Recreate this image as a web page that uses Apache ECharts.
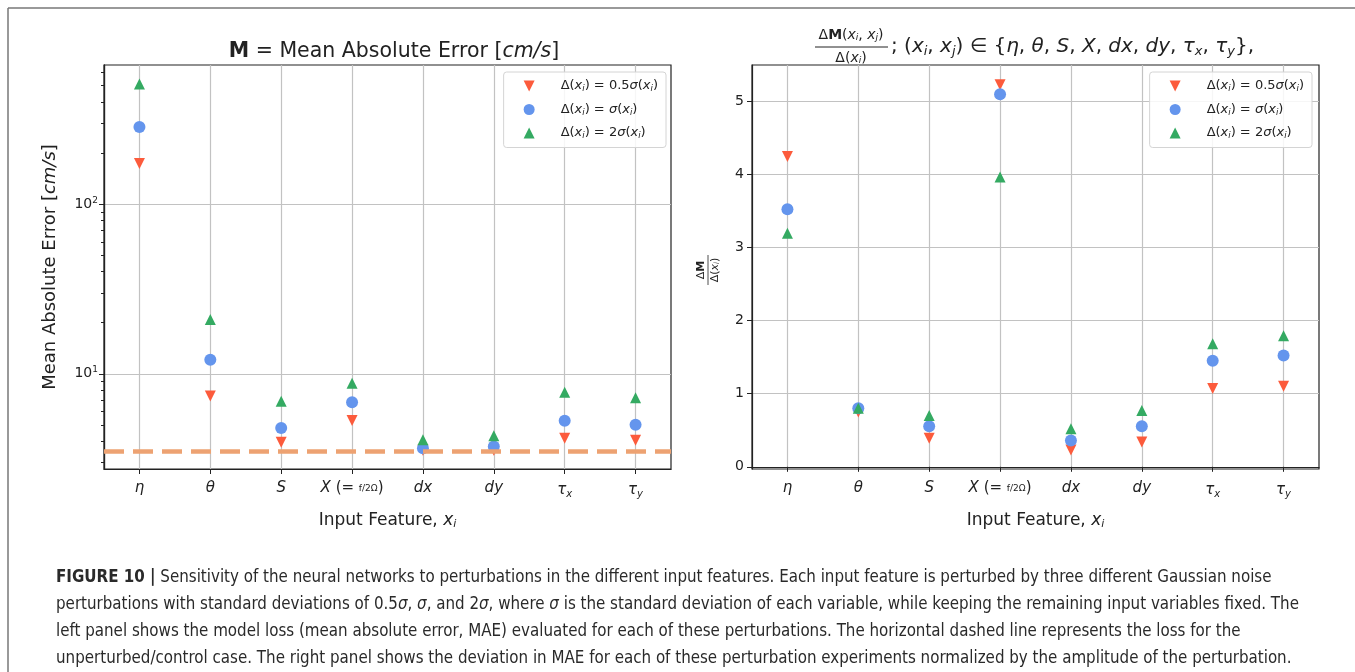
<!DOCTYPE html>
<html>
<head>
<meta charset="utf-8">
<script src="https://cdn.jsdelivr.net/npm/echarts@6/dist/echarts.min.js"></script>
<style>
html, body { margin: 0; padding: 0; background: #fff; }
#chart { width: 1355px; height: 672px; }
</style>
</head>
<body>
<div id="chart"></div>
<script>
// input features on the x axis
const categories = ['η', 'θ', 'S', 'X', 'dx', 'dy', 'τx', 'τy'];
const seriesNames = ['Δ(xi) = 0.5σ(xi)', 'Δ(xi) = σ(xi)', 'Δ(xi) = 2σ(xi)'];

// left panel: mean absolute error [cm/s]
const maeHalfSigma = [174, 7.4, 3.94, 5.3, 3.54, 3.54, 4.16, 4.06];
const maeSigma = [285, 12.1, 4.79, 6.8, 3.64, 3.72, 5.29, 5.01];
const maeTwoSigma = [512, 20.9, 6.89, 8.8, 4.08, 4.31, 7.78, 7.21];
const maeControl = 3.48;

// right panel: dM / d(x)
const dmHalfSigma = [4.24, 0.75, 0.39, 5.22, 0.23, 0.34, 1.07, 1.10];
const dmSigma = [3.52, 0.80, 0.555, 5.09, 0.36, 0.555, 1.45, 1.52];
const dmTwoSigma = [3.19, 0.80, 0.70, 3.96, 0.52, 0.77, 1.68, 1.79];

// tick values
const logMajorTicks = [10, 100];
const logMinorTicks = [3, 4, 5, 6, 7, 8, 9, 20, 30, 40, 50, 60, 70, 80, 90, 200, 300, 400, 500, 600];
const linearTicks = [0, 1, 2, 3, 4, 5];

const captionLines = [
  '{b|FIGURE 10 |} Sensitivity of the neural networks to perturbations in the different input features. Each input feature is perturbed by three different Gaussian noise',
  'perturbations with standard deviations of 0.5{i|σ}, {i|σ}, and 2{i|σ}, where {i|σ} is the standard deviation of each variable, while keeping the remaining input variables fixed. The',
  'left panel shows the model loss (mean absolute error, MAE) evaluated for each of these perturbations. The horizontal dashed line represents the loss for the',
  'unperturbed/control case. The right panel shows the deviation in MAE for each of these perturbation experiments normalized by the amplitude of the perturbation.'
];

const FF = 'DejaVu Sans';
const CAP_FF = 'Liberation Sans Narrow, DejaVu Sans Condensed, sans-serif';
const INK = '#222';
const RED = '#fc5b3c';
const BLUE = '#6495ed';
const GREEN = '#34aa62';
const DASH = '#eda272';
const GRIDC = '#c2c2c2';
const DOWN_TRI = 'path://M0,0L10,0L5,10Z';

const mathRich = {
  i: { fontStyle: 'italic', fontFamily: FF, fontSize: 15, color: INK },
  s: { fontStyle: 'italic', fontFamily: FF, fontSize: 10, color: INK, padding: [8, 0, 0, 0] },
  f: { fontFamily: FF, fontSize: 9, color: INK },
  n: { fontFamily: FF, fontSize: 15, color: INK }
};

function tickLabel(c) {
  if (c === 'X') return '{i|X} {n|(=} {f|f/2Ω}{n|)}';
  if (c === 'τx') return '{i|τ}{s|x}';
  if (c === 'τy') return '{i|τ}{s|y}';
  return '{i|' + c + '}';
}

const legendRich = {
  i: { fontStyle: 'italic', fontFamily: FF, fontSize: 13, color: INK },
  s: { fontStyle: 'italic', fontFamily: FF, fontSize: 8.5, color: INK, padding: [6, 0, 0, 0] },
  n: { fontFamily: FF, fontSize: 13, color: INK }
};
const legendText = {};
legendText[seriesNames[0]] = '{n|Δ(}{i|x}{s|i}{n|) = 0.5}{i|σ}{n|(}{i|x}{s|i}{n|)}';
legendText[seriesNames[1]] = '{n|Δ(}{i|x}{s|i}{n|) = }{i|σ}{n|(}{i|x}{s|i}{n|)}';
legendText[seriesNames[2]] = '{n|Δ(}{i|x}{s|i}{n|) = 2}{i|σ}{n|(}{i|x}{s|i}{n|)}';
const legendIcons = [DOWN_TRI, 'circle', 'triangle'];

function makeLegend(right) {
  return {
    right: right, top: 72, orient: 'vertical',
    itemWidth: 11, itemHeight: 11, itemGap: 9,
    padding: [7, 8, 7, 20],
    borderColor: '#d4d4d4', borderWidth: 1, borderRadius: 3,
    backgroundColor: 'rgba(255,255,255,0.85)',
    data: seriesNames.map((n, k) => ({ name: n, icon: legendIcons[k] })),
    formatter: name => legendText[name],
    textStyle: { fontFamily: FF, fontSize: 13, lineHeight: 14, color: INK, rich: legendRich, padding: [0, 0, 0, 21] },
    selectedMode: false
  };
}

function makeXAxis(gridIndex) {
  return {
    type: 'category', gridIndex: gridIndex, data: categories, boundaryGap: true,
    axisLine: { show: true, lineStyle: { color: INK, width: 1.2 } },
    axisTick: { show: true, alignWithLabel: true, length: 5, lineStyle: { color: INK } },
    splitLine: { show: true, alignWithLabel: true, lineStyle: { color: GRIDC, width: 1.2 } },
    axisLabel: { interval: 0, margin: 12, formatter: tickLabel, rich: mathRich, fontFamily: FF, fontSize: 15, color: INK },
    name: '{n|Input Feature, }{i|x}{s|i}',
    nameLocation: 'middle', nameGap: 42,
    nameTextStyle: {
      fontFamily: FF, fontSize: 17, color: INK,
      rich: {
        n: { fontFamily: FF, fontSize: 17, color: INK },
        i: { fontFamily: FF, fontSize: 17, fontStyle: 'italic', color: INK },
        s: { fontFamily: FF, fontSize: 11, fontStyle: 'italic', color: INK, padding: [8, 0, 0, 0] }
      }
    }
  };
}

function scatter(name, xi, data, symbol, color, extra) {
  return Object.assign({
    type: 'scatter', name: name, xAxisIndex: xi, yAxisIndex: xi === 0 ? 0 : 2,
    data: data, symbol: symbol, symbolSize: symbol === 'circle' ? 12 : 11,
    itemStyle: { color: color, opacity: 1 },
    emphasis: { disabled: true }, z: 3
  }, extra || {});
}

function panelSeries(xi, half, one, two, extra) {
  return [
    scatter(seriesNames[0], xi, half, DOWN_TRI, RED, extra),
    scatter(seriesNames[1], xi, one, 'circle', BLUE),
    scatter(seriesNames[2], xi, two, 'triangle', GREEN)
  ];
}

const chart = echarts.init(document.getElementById('chart'));

const option = {
  animation: false,
  backgroundColor: '#fff',
  title: [{
    text: '{b|M} = Mean Absolute Error [{i|cm/s}]',
    left: 389, top: 36, textAlign: 'center',
    textStyle: {
      fontFamily: FF, fontSize: 20.5, fontWeight: 'normal', color: INK,
      rich: {
        b: { fontFamily: FF, fontSize: 20.5, fontWeight: 'bold', color: INK },
        i: { fontFamily: FF, fontSize: 20.5, fontStyle: 'italic', color: INK }
      }
    }
  }],
  legend: [makeLegend(689), makeLegend(43)],
  grid: [
    { left: 104, top: 65, width: 567, height: 404, show: true, borderColor: INK, borderWidth: 1.2 },
    { left: 752, top: 65, width: 567, height: 404, show: true, borderColor: INK, borderWidth: 1.2 }
  ],
  xAxis: [makeXAxis(0), makeXAxis(1)],
  yAxis: [
    {
      type: 'log', gridIndex: 0, min: 2.744, max: 662, position: 'left',
      name: 'Mean Absolute Error [{i|cm/s}]',
      nameLocation: 'middle', nameGap: 45,
      nameTextStyle: {
        fontFamily: FF, fontSize: 18, color: INK, padding: [0, 0, 0, 0],
        rich: { i: { fontFamily: FF, fontSize: 18, fontStyle: 'italic', color: INK } }
      },
      axisLine: { show: true, lineStyle: { color: INK, width: 1.2 } },
      axisTick: { show: true, length: 5, customValues: logMajorTicks, lineStyle: { color: INK } },
      axisLabel: {
        customValues: logMajorTicks, margin: 6, fontFamily: FF, fontSize: 14, color: INK,
        formatter: v => '10{sup|' + Math.round(Math.log10(v)) + '}',
        rich: { sup: { fontFamily: FF, fontSize: 9, color: INK, padding: [0, 0, 8, 0] } }
      },
      splitLine: { show: true, lineStyle: { color: GRIDC, width: 1.2 } }
    },
    {
      type: 'log', gridIndex: 0, min: 2.744, max: 662, position: 'left', offset: 0,
      axisLine: { show: true, lineStyle: { color: INK, width: 1.2 } },
      axisTick: { show: true, length: 3, customValues: logMinorTicks, lineStyle: { color: INK } },
      axisLabel: { show: false },
      splitLine: { show: false }
    },
    {
      type: 'value', gridIndex: 1, min: -0.03, max: 5.49,
      axisLine: { show: true, lineStyle: { color: INK, width: 1.2 } },
      axisTick: { show: true, length: 5, customValues: linearTicks, lineStyle: { color: INK } },
      axisLabel: { customValues: linearTicks, margin: 8, fontFamily: FF, fontSize: 14, color: INK },
      splitLine: { show: true, lineStyle: { color: GRIDC, width: 1.2 } }
    }
  ],
  series: [
    ...panelSeries(0, maeHalfSigma, maeSigma, maeTwoSigma, {
      markLine: {
        silent: true, symbol: 'none', label: { show: false },
        lineStyle: { color: DASH, width: 4.5, type: [20, 9], opacity: 1 },
        data: [{ yAxis: maeControl }]
      }
    }),
    ...panelSeries(1, dmHalfSigma, dmSigma, dmTwoSigma)
  ],
  graphic: [
    // figure frame
    { type: 'line', shape: { x1: 8, y1: 8, x2: 1355, y2: 8 }, style: { stroke: '#777', lineWidth: 1.5 }, silent: true },
    { type: 'line', shape: { x1: 8, y1: 8, x2: 8, y2: 672 }, style: { stroke: '#777', lineWidth: 1.5 }, silent: true },
    // right panel title
    {
      type: 'text', x: 851, y: 35, silent: true,
      style: {
        text: 'Δ{b|M}({i|x}{s|i}, {i|x}{s|j})', align: 'center', verticalAlign: 'middle',
        fontFamily: FF, fontSize: 14, fill: INK,
        rich: {
          b: { fontFamily: FF, fontSize: 14, fontWeight: 'bold', fill: INK },
          i: { fontFamily: FF, fontSize: 14, fontStyle: 'italic', fill: INK },
          s: { fontFamily: FF, fontSize: 9, fontStyle: 'italic', fill: INK, padding: [6, 0, 0, 0] }
        }
      }
    },
    { type: 'line', shape: { x1: 815, y1: 47, x2: 888, y2: 47 }, style: { stroke: INK, lineWidth: 1 }, silent: true },
    {
      type: 'text', x: 851, y: 58, silent: true,
      style: {
        text: 'Δ({i|x}{s|i})', align: 'center', verticalAlign: 'middle',
        fontFamily: FF, fontSize: 14, fill: INK,
        rich: {
          i: { fontFamily: FF, fontSize: 14, fontStyle: 'italic', fill: INK },
          s: { fontFamily: FF, fontSize: 9, fontStyle: 'italic', fill: INK, padding: [6, 0, 0, 0] }
        }
      }
    },
    {
      type: 'text', x: 891, y: 47, silent: true,
      style: {
        text: '; ({i|x}{s|i}, {i|x}{s|j}) ∈ {{i|η}, {i|θ}, {i|S}, {i|X}, {i|dx}, {i|dy}, {i|τ}{s|x}, {i|τ}{s|y}},',
        align: 'left', verticalAlign: 'middle',
        fontFamily: FF, fontSize: 20, fill: INK,
        rich: {
          i: { fontFamily: FF, fontSize: 20, fontStyle: 'italic', fill: INK },
          s: { fontFamily: FF, fontSize: 13, fontStyle: 'italic', fill: INK, padding: [9, 0, 0, 0] }
        }
      }
    },
    // right panel y axis label (fraction)
    {
      type: 'group', x: 708, y: 270, rotation: Math.PI / 2, silent: true,
      children: [
        {
          type: 'text', x: 0, y: -7,
          style: { text: 'Δ{b|M}', align: 'center', verticalAlign: 'middle', fontFamily: FF, fontSize: 11, fill: INK,
            rich: { b: { fontFamily: FF, fontSize: 11, fontWeight: 'bold', fill: INK } } }
        },
        { type: 'line', shape: { x1: -15, y1: 0, x2: 15, y2: 0 }, style: { stroke: INK, lineWidth: 0.8 } },
        {
          type: 'text', x: 0, y: 7,
          style: { text: 'Δ({i|x}{s|i})', align: 'center', verticalAlign: 'middle', fontFamily: FF, fontSize: 11, fill: INK,
            rich: {
              i: { fontFamily: FF, fontSize: 11, fontStyle: 'italic', fill: INK },
              s: { fontFamily: FF, fontSize: 7, fontStyle: 'italic', fill: INK, padding: [4, 0, 0, 0] }
            } }
        }
      ]
    },
    // caption
    ...captionLines.map((line, k) => ({
      type: 'text', x: 56, y: 578 + k * 26.8, silent: true,
      style: {
        text: line, align: 'left', verticalAlign: 'middle',
        fontFamily: CAP_FF, fontSize: 16.8, fill: '#2a2a2a',
        rich: {
          b: { fontFamily: CAP_FF, fontSize: 16.8, fontWeight: 'bold', fill: '#2a2a2a' },
          i: { fontFamily: CAP_FF, fontSize: 16.8, fontStyle: 'italic', fill: '#2a2a2a' }
        }
      }
    }))
  ]
};

chart.setOption(option);
</script>
</body>
</html>
